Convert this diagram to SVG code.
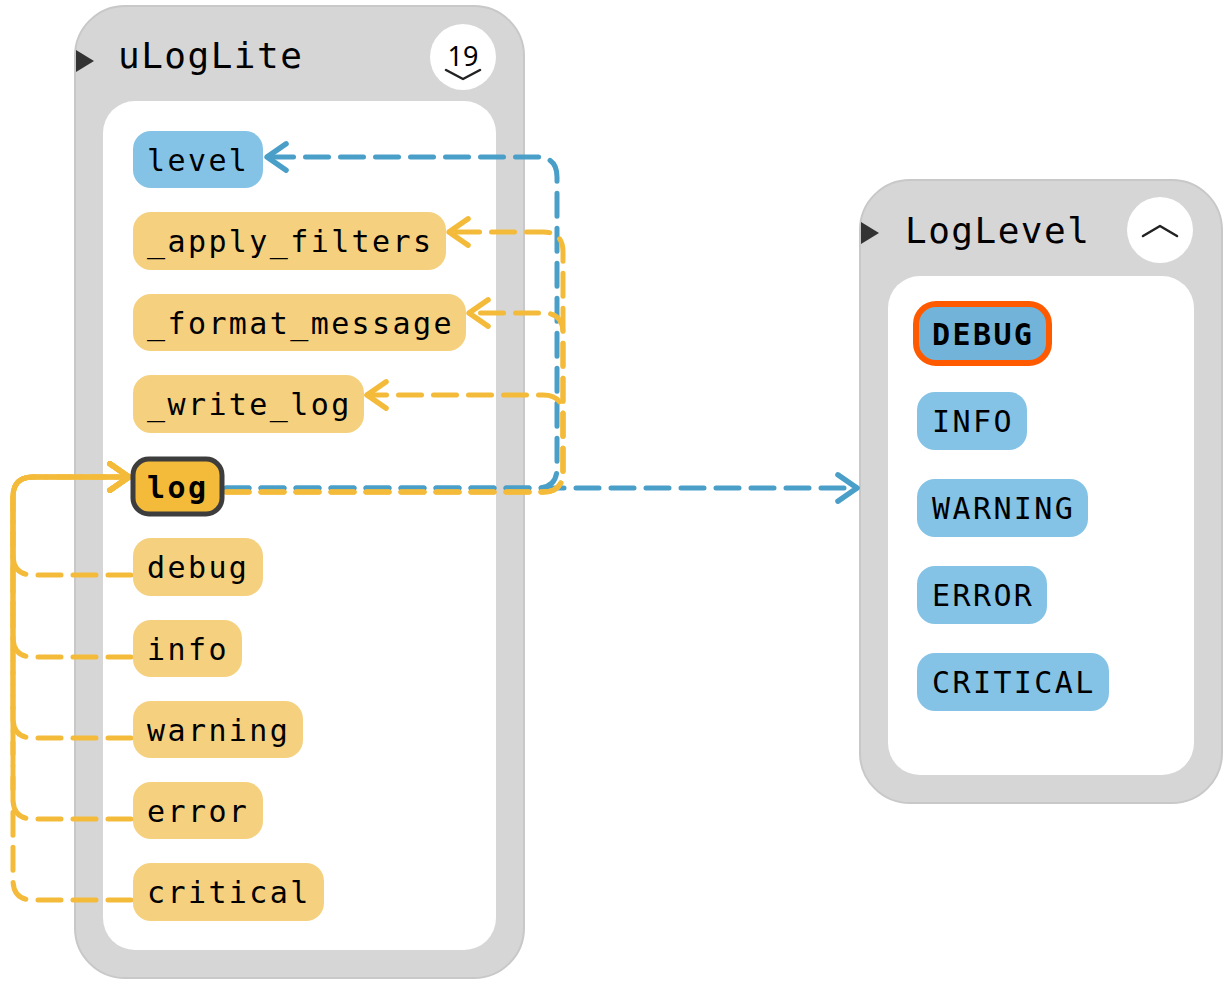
<svg xmlns="http://www.w3.org/2000/svg" width="1228" height="985" viewBox="0 0 1228 985">
<style>
.outer{fill:#d6d6d6;stroke:#c8c8c8;stroke-width:2}
.inner{fill:#ffffff}
.title{font-family:"DejaVu Sans Mono","Liberation Mono",monospace;font-size:36px;letter-spacing:1.5px;fill:#000}
.lbl{font-family:"DejaVu Sans Mono","Liberation Mono",monospace;font-size:30px;letter-spacing:2.4px;fill:#000}
.bold{font-weight:bold}
.meth{fill:#f5d07f}
.attr{fill:#84c3e6}
.sel{fill:#f4bb3b;stroke:#3d3d3d;stroke-width:5}
.dbg{fill:#72b4d9;stroke:#ff5a00;stroke-width:6}
.tri{fill:#333}
.badge{fill:#fff}
.chev{fill:none;stroke:#222;stroke-width:2.5;stroke-linecap:round;stroke-linejoin:round}
.cb{fill:none;stroke:#4a9fc9;stroke-width:5;stroke-dasharray:23 12;stroke-linecap:round}
.cy{fill:none;stroke:#f4bb3b;stroke-width:5;stroke-dasharray:23 12;stroke-linecap:round}
</style>
<defs>
<marker id="arrB" markerUnits="userSpaceOnUse" markerWidth="30" markerHeight="34" viewBox="-22 -16 26 32" refX="0" refY="0" orient="auto" overflow="visible">
<path d="M-18,-12.5 L0,0 L-18,12.5" fill="none" stroke="#4a9fc9" stroke-width="5" stroke-linecap="round" stroke-linejoin="round"/>
</marker>
<marker id="arrY" markerUnits="userSpaceOnUse" markerWidth="30" markerHeight="34" viewBox="-22 -16 26 32" refX="0" refY="0" orient="auto" overflow="visible">
<path d="M-18,-12.5 L0,0 L-18,12.5" fill="none" stroke="#f4bb3b" stroke-width="5" stroke-linecap="round" stroke-linejoin="round"/>
</marker>
</defs>

<g id="uLogLite">
<rect class="outer" x="75" y="6" width="449" height="972" rx="50"/>
<rect class="inner" x="103" y="101" width="393" height="849" rx="32"/>
<polygon class="tri" points="76,50 94,61 76,72"/>
<text class="title" x="118" y="68">uLogLite</text>
<circle class="badge" cx="463" cy="57" r="33"/>
<text x="463" y="66" text-anchor="middle" font-family="'Noto Sans','DejaVu Sans',sans-serif" font-size="27" fill="#000">19</text>
<path class="chev" d="M446,70 L463,79 L480,70"/>
</g>

<g id="LogLevel">
<rect class="outer" x="860" y="180" width="362" height="623" rx="50"/>
<rect class="inner" x="888" y="276" width="306" height="499" rx="32"/>
<polygon class="tri" points="861,222 879,233 861,244"/>
<text class="title" x="905" y="243">LogLevel</text>
<circle class="badge" cx="1160" cy="230" r="33"/>
<path class="chev" d="M1143,236 L1160,226 L1177,236"/>
</g>

<g id="connectors">
<path class="cb" d="M226,488 H537 Q557,488 557,468 V177 Q557,157 537,157 H267" marker-end="url(#arrB)"/>
<path class="cb" d="M226,488 H857" marker-end="url(#arrB)"/>
<path class="cy" d="M226,492 H543 Q563,492 563,472 V252 Q563,232 543,232 H449" marker-end="url(#arrY)"/>
<path class="cy" d="M226,492 H543 Q563,492 563,472 V333 Q563,313 543,313 H469" marker-end="url(#arrY)"/>
<path class="cy" d="M226,492 H543 Q563,492 563,472 V415 Q563,395 543,395 H367" marker-end="url(#arrY)"/>
<path class="cy" d="M131,575 H33 Q13,575 13,555 V497 Q13,477 33,477 H129" marker-end="url(#arrY)"/>
<path class="cy" d="M131,657 H33 Q13,657 13,637 V497 Q13,477 33,477 H129" marker-end="url(#arrY)"/>
<path class="cy" d="M131,738 H33 Q13,738 13,718 V497 Q13,477 33,477 H129" marker-end="url(#arrY)"/>
<path class="cy" d="M131,819 H33 Q13,819 13,799 V497 Q13,477 33,477 H129" marker-end="url(#arrY)"/>
<path class="cy" d="M131,900 H33 Q13,900 13,880 V497 Q13,477 33,477 H129" marker-end="url(#arrY)"/>
</g>

<g id="level"><rect class="attr" x="133" y="131" width="130" height="57" rx="18"/><text class="lbl" x="147" y="171">level</text></g>
<g id="_apply_filters"><rect class="meth" x="133" y="212" width="313" height="58" rx="18"/><text class="lbl" x="147" y="252">_apply_filters</text></g>
<g id="_format_message"><rect class="meth" x="133" y="294" width="333" height="57" rx="18"/><text class="lbl" x="147" y="334">_format_message</text></g>
<g id="_write_log"><rect class="meth" x="133" y="375" width="231" height="58" rx="18"/><text class="lbl" x="147" y="415">_write_log</text></g>
<g id="log"><rect class="sel" x="133" y="459" width="89" height="55" rx="16"/><text class="lbl bold" x="147" y="498">log</text></g>
<g id="debug"><rect class="meth" x="133" y="538" width="130" height="58" rx="18"/><text class="lbl" x="147" y="578">debug</text></g>
<g id="info"><rect class="meth" x="133" y="620" width="109" height="57" rx="18"/><text class="lbl" x="147" y="660">info</text></g>
<g id="warning"><rect class="meth" x="133" y="701" width="170" height="57" rx="18"/><text class="lbl" x="147" y="741">warning</text></g>
<g id="error"><rect class="meth" x="133" y="782" width="130" height="57" rx="18"/><text class="lbl" x="147" y="822">error</text></g>
<g id="critical"><rect class="meth" x="133" y="863" width="191" height="58" rx="18"/><text class="lbl" x="147" y="903">critical</text></g>

<g id="DEBUG"><rect class="dbg" x="916" y="304" width="133" height="59" rx="20"/><text class="lbl bold" x="932" y="345">DEBUG</text></g>
<g id="INFO"><rect class="attr" x="917" y="392" width="110" height="58" rx="18"/><text class="lbl" x="932" y="432">INFO</text></g>
<g id="WARNING"><rect class="attr" x="917" y="479" width="171" height="58" rx="18"/><text class="lbl" x="932" y="519">WARNING</text></g>
<g id="ERROR"><rect class="attr" x="917" y="566" width="130" height="58" rx="18"/><text class="lbl" x="932" y="606">ERROR</text></g>
<g id="CRITICAL"><rect class="attr" x="917" y="653" width="192" height="58" rx="18"/><text class="lbl" x="932" y="693">CRITICAL</text></g>
</svg>
